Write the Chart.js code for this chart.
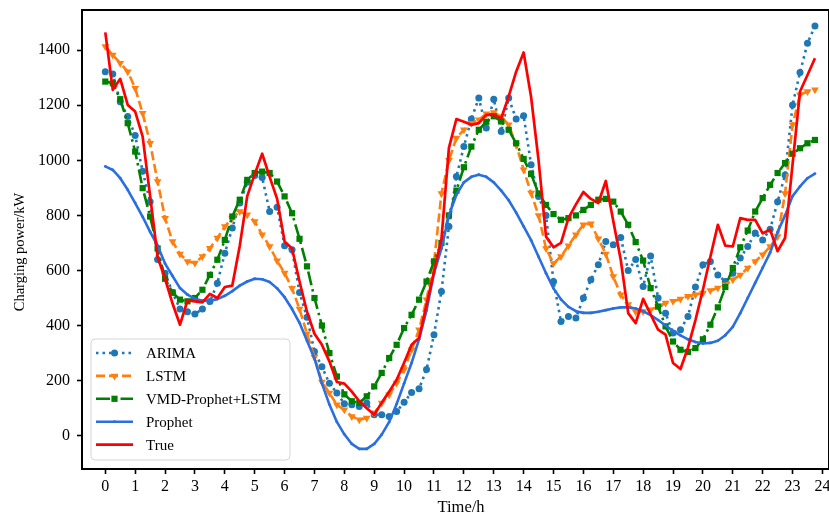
<!DOCTYPE html>
<html lang="en">
<head>
<meta charset="UTF-8">
<title>Charging power forecast</title>
<style>
    html, body {
        margin: 0;
        padding: 0;
        background: #fff;
        overflow: hidden;
    }
    #powerChart {
        display: block;
    }
</style>
</head>
<body>
<canvas id="powerChart" width="829" height="518"></canvas>

<script src="https://cdn.jsdelivr.net/npm/chart.js"></script>
<script>
// time of day, every 15 minutes
var hours = [
    0, 0.25, 0.5, 0.75, 1, 1.25, 1.5, 1.75, 2, 2.25, 2.5, 2.75,
    3, 3.25, 3.5, 3.75, 4, 4.25, 4.5, 4.75, 5, 5.25, 5.5, 5.75,
    6, 6.25, 6.5, 6.75, 7, 7.25, 7.5, 7.75, 8, 8.25, 8.5, 8.75,
    9, 9.25, 9.5, 9.75, 10, 10.25, 10.5, 10.75, 11, 11.25, 11.5, 11.75,
    12, 12.25, 12.5, 12.75, 13, 13.25, 13.5, 13.75, 14, 14.25, 14.5, 14.75,
    15, 15.25, 15.5, 15.75, 16, 16.25, 16.5, 16.75, 17, 17.25, 17.5, 17.75,
    18, 18.25, 18.5, 18.75, 19, 19.25, 19.5, 19.75, 20, 20.25, 20.5, 20.75,
    21, 21.25, 21.5, 21.75, 22, 22.25, 22.5, 22.75, 23, 23.25, 23.5, 23.75
];

var arima = [
    1322, 1314, 1213, 1159, 1090, 960, 850, 640, 590, 520, 460, 450,
    442, 460, 487, 554, 663, 754, 845, 920, 945, 938, 814, 830,
    690, 675, 520, 430, 306, 250, 190, 155, 116, 112, 106, 119,
    76, 76, 70, 88, 121, 157, 170, 240, 367, 524, 760, 941,
    1050, 1150, 1226, 1117, 1222, 1105, 1226, 1150, 1162, 984, 869, 800,
    560, 415, 433, 427, 500, 566, 621, 705, 693, 720, 600, 640,
    542, 653, 500, 445, 373, 385, 433, 540, 621, 633, 584, 560,
    590, 645, 687, 736, 711, 750, 850, 947, 1201, 1319, 1425, 1488
];

var lstm = [
    1413, 1383, 1353, 1322, 1262, 1171, 1062, 923, 790, 705, 660, 633,
    627, 651, 681, 718, 760, 790, 814, 802, 778, 730, 687, 635,
    591, 535, 460, 370, 285, 195, 155, 112, 94, 70, 58, 64,
    82, 119, 149, 191, 240, 312, 385, 494, 627, 880, 1000, 1081,
    1111, 1135, 1147, 1169, 1174, 1159, 1129, 1056, 966, 881, 800, 680,
    625, 651, 690, 730, 766, 770, 715, 660, 578, 512, 476, 450,
    451, 457, 469, 482, 488, 496, 506, 512, 518, 527, 536, 548,
    566, 584, 609, 633, 657, 687, 723, 880, 1129, 1238, 1250, 1256
];

var vmdProphetLstm = [
    1286, 1280, 1222, 1135, 1032, 899, 796, 680, 570, 520, 494, 488,
    500, 530, 584, 639, 711, 796, 857, 929, 954, 959, 954, 923,
    869, 808, 715, 615, 500, 400, 300, 215, 150, 125, 119, 143,
    179, 228, 282, 330, 391, 439, 494, 560, 633, 700, 800, 890,
    975, 1050, 1111, 1140, 1160, 1141, 1111, 1062, 1005, 950, 880, 838,
    805, 784, 790, 800, 820, 838, 857, 860, 850, 814, 766, 703,
    636, 536, 469, 397, 342, 312, 304, 318, 350, 403, 466, 540,
    609, 684, 745, 814, 863, 911, 954, 990, 1024, 1044, 1062, 1074
];

var prophet = [
    978, 965, 935, 893, 845, 795, 740, 690, 625, 580, 536, 512,
    497, 490, 490, 496, 508, 525, 545, 560, 570, 568, 558, 535,
    503, 460, 410, 345, 280, 190, 113, 50, 5, -30, -48, -48,
    -30, 4, 50, 115, 190, 264, 350, 455, 590, 680, 800, 875,
    920, 940, 948, 940, 920, 890, 855, 810, 760, 710, 650, 590,
    535, 495, 468, 452, 446, 446, 450, 456, 462, 466, 466, 462,
    452, 438, 420, 400, 380, 364, 350, 340, 335, 337, 345, 365,
    395, 445, 500, 555, 610, 665, 740, 800, 870, 905, 935, 952
];

var trueLoad = [
    1465, 1256, 1296, 1201, 1177, 1086, 870, 650, 570, 480, 403, 491,
    488, 484, 515, 500, 540, 545, 690, 870, 950, 1024, 940, 860,
    705, 680, 560, 450, 370, 330, 270, 195, 189, 160, 125, 100,
    76, 120, 160, 203, 265, 330, 355, 475, 595, 715, 1045, 1150,
    1140, 1129, 1135, 1165, 1165, 1153, 1232, 1322, 1392, 1230, 1000, 723,
    684, 700, 790, 840, 885, 860, 845, 925, 780, 639, 445, 409,
    497, 440, 385, 367, 264, 242, 320, 420, 530, 650, 766, 690,
    687, 790, 784, 784, 735, 748, 670, 718, 985, 1250, 1310, 1371
];

var xTicks = [0, 1, 2, 3, 4, 5, 6, 7, 8, 9, 10, 11, 12, 13, 14, 15, 16, 17, 18, 19, 20, 21, 22, 23, 24];
var yTicks = [0, 200, 400, 600, 800, 1000, 1200, 1400];
var xTitle = 'Time/h';
var yTitle = 'Charging power/kW';

function toPoints(values) {
    return values.map(function (v, i) { return { x: hours[i], y: v }; });
}

function drawMarker(ctx, style, r, rot, x, y, color) {
    ctx.fillStyle = color;
    ctx.beginPath();
    if (style === 'circle') {
        ctx.arc(x, y, r, 0, Math.PI * 2);
    } else if (style === 'rect') {
        var s = r * Math.SQRT1_2;
        ctx.rect(x - s, y - s, 2 * s, 2 * s);
    } else if (style === 'triangle') {
        var a = (rot || 0) * Math.PI / 180;
        for (var k = 0; k < 3; k++) {
            var px = x + Math.sin(a) * r, py = y - Math.cos(a) * r;
            if (k === 0) ctx.moveTo(px, py); else ctx.lineTo(px, py);
            a += Math.PI * 2 / 3;
        }
        ctx.closePath();
    }
    ctx.fill();
}

// frame, axis titles and the legend box in the lower left corner
var decorPlugin = {
    id: 'decor',
    afterDraw: function (chart) {
        var ctx = chart.ctx, a = chart.chartArea;
        ctx.save();
        ctx.strokeStyle = '#000';
        ctx.lineWidth = 2;
        ctx.setLineDash([]);
        ctx.strokeRect(a.left, a.top, a.right - a.left, a.bottom - a.top);

        ctx.fillStyle = '#000';
        ctx.textAlign = 'center';
        ctx.textBaseline = 'middle';
        ctx.font = '16.5px "Liberation Serif"';
        ctx.fillText(xTitle, 461, 508);
        ctx.save();
        ctx.translate(20, 252);
        ctx.rotate(-Math.PI / 2);
        ctx.font = '14.5px "Liberation Serif"';
        ctx.fillText(yTitle, 0, 0);
        ctx.restore();

        var lx = a.left + 9, ly = a.bottom - 130, lw = 199, lh = 121;
        ctx.beginPath();
        ctx.roundRect(lx, ly, lw, lh, 4);
        ctx.fillStyle = 'rgba(255,255,255,0.85)';
        ctx.fill();
        ctx.strokeStyle = '#d6d6d6';
        ctx.lineWidth = 1;
        ctx.stroke();

        ctx.font = '15px "Liberation Serif"';
        ctx.textAlign = 'left';
        chart.data.datasets.forEach(function (ds, i) {
            var y = ly + 14 + i * 22.9;
            ctx.setLineDash(ds.borderDash || []);
            ctx.lineDashOffset = 0;
            ctx.strokeStyle = ds.borderColor;
            ctx.lineWidth = ds.borderWidth;
            ctx.lineCap = 'butt';
            ctx.beginPath();
            ctx.moveTo(lx + 5, y);
            ctx.lineTo(lx + 42, y);
            ctx.stroke();
            ctx.setLineDash([]);
            if (ds.pointRadius > 0) {
                drawMarker(ctx, ds.pointStyle, ds.pointRadius, ds.pointRotation, lx + 23.5, y, ds.pointBackgroundColor);
            }
            ctx.fillStyle = '#000';
            ctx.fillText(ds.label, lx + 55, y + 1);
        });
        ctx.restore();
    }
};

Chart.defaults.font.family = '"Liberation Serif", serif';
Chart.defaults.color = '#000';

var ctx = document.getElementById('powerChart').getContext('2d');
var powerChart = new Chart(ctx, {
    type: 'line',
    data: {
        datasets: [
            {
                label: 'ARIMA',
                data: toPoints(arima),
                borderColor: '#1f77b4',
                borderWidth: 2.6,
                borderDash: [2.5, 4],
                pointStyle: 'circle',
                pointRadius: 3.5,
                pointBackgroundColor: '#1f77b4',
                pointBorderColor: '#1f77b4',
                pointBorderWidth: 0,
                order: 5
            },
            {
                label: 'LSTM',
                data: toPoints(lstm),
                borderColor: '#ff7f0e',
                borderWidth: 2.6,
                borderDash: [9, 4],
                pointStyle: 'triangle',
                pointRotation: 180,
                pointRadius: 4.5,
                pointBackgroundColor: '#ff7f0e',
                pointBorderColor: '#ff7f0e',
                pointBorderWidth: 0,
                order: 4
            },
            {
                label: 'VMD-Prophet+LSTM',
                data: toPoints(vmdProphetLstm),
                borderColor: '#008000',
                borderWidth: 2.6,
                borderDash: [14, 4, 2.5, 4],
                pointStyle: 'rect',
                pointRadius: 4.4,
                pointBackgroundColor: '#008000',
                pointBorderColor: '#008000',
                pointBorderWidth: 0,
                order: 3
            },
            {
                label: 'Prophet',
                data: toPoints(prophet),
                borderColor: '#2a6fe0',
                borderWidth: 2.6,
                pointStyle: 'circle',
                pointRadius: 1.4,
                pointBackgroundColor: '#2a6fe0',
                pointBorderColor: '#2a6fe0',
                pointBorderWidth: 0,
                order: 2
            },
            {
                label: 'True',
                data: toPoints(trueLoad),
                borderColor: '#ff0000',
                borderWidth: 2.7,
                pointRadius: 0,
                order: 1
            }
        ]
    },
    options: {
        responsive: false,
        animation: false,
        events: [],
        layout: { autoPadding: false, padding: { left: 0, top: 10, right: -3, bottom: 0 } },
        elements: { line: { tension: 0, borderCapStyle: 'butt', borderJoinStyle: 'round' } },
        plugins: {
            legend: { display: false },
            tooltip: { enabled: false }
        },
        scales: {
            x: {
                type: 'linear',
                min: -0.78,
                max: 24.22,
                afterBuildTicks: function (s) {
                    s.ticks = xTicks.map(function (v) { return { value: v }; });
                },
                afterFit: function (s) {
                    s.height = 49;
                    s.paddingLeft = 0;
                    s.paddingRight = 0;
                },
                grid: { drawOnChartArea: false, drawTicks: true, tickLength: 5, tickColor: '#000', tickWidth: 1.6 },
                border: { display: false },
                ticks: {
                    padding: 3,
                    maxRotation: 0,
                    autoSkip: false,
                    font: { size: 16 },
                    callback: function (v) { return String(v); }
                }
            },
            y: {
                type: 'linear',
                min: -121,
                max: 1546,
                afterBuildTicks: function (s) {
                    s.ticks = yTicks.map(function (v) { return { value: v }; });
                },
                afterFit: function (s) {
                    s.width = 82;
                    s.paddingTop = 0;
                    s.paddingBottom = 0;
                },
                grid: { drawOnChartArea: false, drawTicks: true, tickLength: 5, tickColor: '#000', tickWidth: 1.6 },
                border: { display: false },
                ticks: {
                    padding: 7,
                    font: { size: 16 },
                    callback: function (v) { return String(v); }
                }
            }
        }
    },
    plugins: [decorPlugin]
});
</script>
</body>
</html>
